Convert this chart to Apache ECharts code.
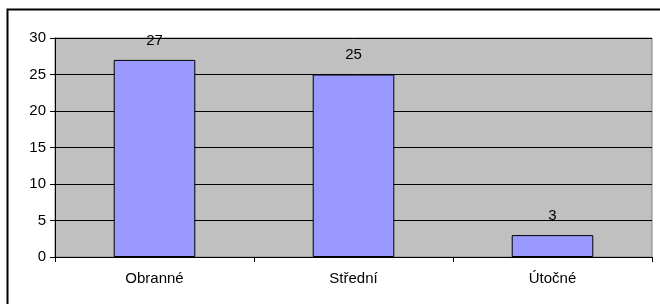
<!DOCTYPE html>
<html>
<head>
<meta charset="utf-8">
<script src="https://cdn.jsdelivr.net/npm/echarts@6/dist/echarts.min.js"></script>
<style>
  html, body { margin: 0; padding: 0; background: #fff; }
  #chart { width: 660px; height: 304px; }
</style>
</head>
<body>
<div id="chart"></div>
<script>
// kategorie a hodnoty
var categories = ['Obranné', 'Střední', 'Útočné'];
var values = [27, 25, 3];
var yTicks = { min: 0, max: 30, interval: 5 };

var chart = echarts.init(document.getElementById('chart'));
var option = {
  animation: false,
  textStyle: { fontFamily: 'Liberation Sans, Arial, sans-serif' },
  graphic: [{
    type: 'rect',
    shape: { x: 7.5, y: 9.5, width: 660, height: 300 },
    style: { fill: 'none', stroke: '#000', lineWidth: 2 },
    silent: true
  }],
  grid: {
    left: 55, top: 38, right: 8, bottom: 47,
    show: true,
    backgroundColor: '#C0C0C0',
    borderColor: '#808080',
    borderWidth: 1
  },
  xAxis: {
    type: 'category',
    data: categories,
    axisLine: { lineStyle: { color: '#000', width: 1 } },
    axisTick: { show: true, length: 5, lineStyle: { color: '#000' } },
    axisLabel: { color: '#000', fontSize: 15, margin: 14 }
  },
  yAxis: {
    type: 'value',
    min: yTicks.min, max: yTicks.max, interval: yTicks.interval,
    axisLine: { show: true, lineStyle: { color: '#000', width: 1 } },
    axisTick: { show: true, length: 5, lineStyle: { color: '#000' } },
    axisLabel: { color: '#000', fontSize: 15, margin: 9 },
    splitLine: { lineStyle: { color: '#000', width: 1 } }
  },
  series: [{
    type: 'bar',
    data: values,
    barWidth: '41%',
    itemStyle: { color: '#9999FF', borderColor: '#000', borderWidth: 1 },
    label: { show: true, position: 'top', distance: 12, color: '#000', fontSize: 15 }
  }]
};
chart.setOption(option);
</script>
</body>
</html>
